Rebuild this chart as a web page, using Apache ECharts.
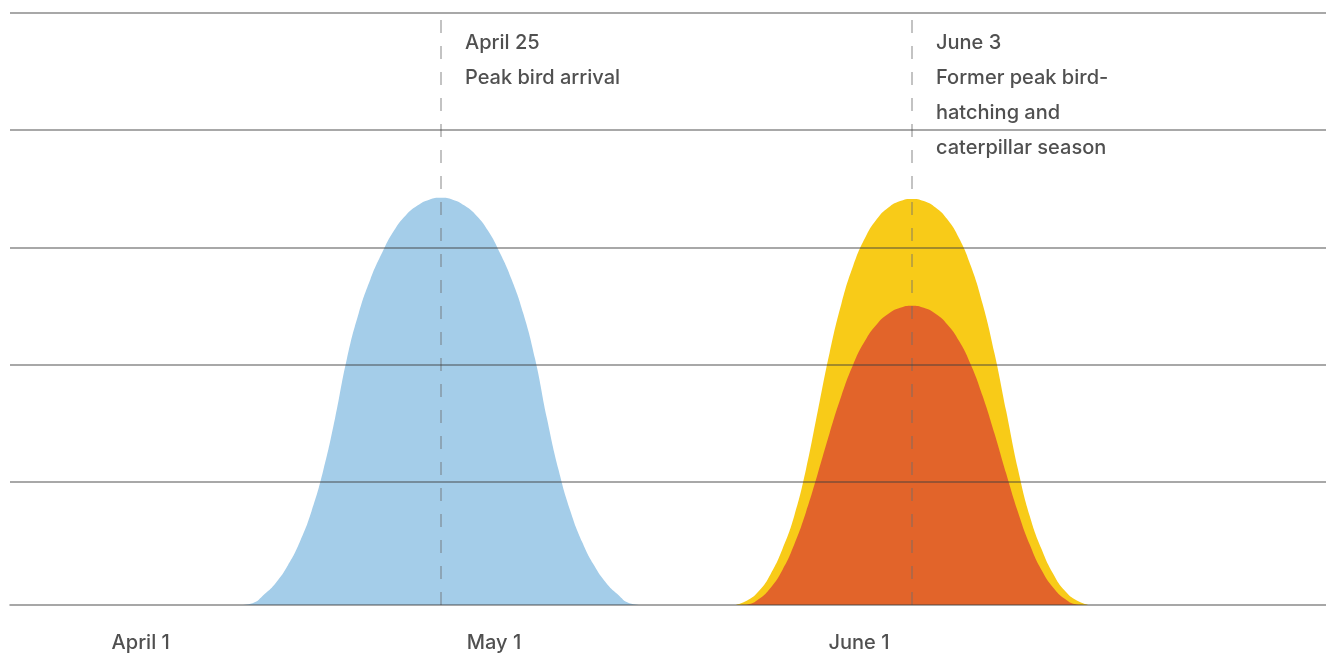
<!DOCTYPE html>
<html>
<head>
<meta charset="utf-8">
<script src="https://cdn.jsdelivr.net/npm/echarts@6/dist/echarts.min.js"></script>
<style>
  html, body { margin: 0; padding: 0; background: #ffffff; }
  #chart { width: 1326px; height: 654px; }
</style>
</head>
<body>
<div id="chart"></div>
<script>
// ---- Data (x = days counted from April 1, y = relative abundance) ----
const tickDays   = [0, 30, 61];
const tickLabels = ['April 1', 'May 1', 'June 1'];

const birdDays = [8.5, 9.5, 10.5, 11.5, 12.5, 13.5, 14.5, 15.5, 16.5, 17.5, 18.5, 19.5,
  20.5, 21.5, 22.5, 23.5, 24.5, 25.5, 26.5, 27.5, 28.5, 29.5, 30.5, 31.5, 32.5, 33.5,
  34.5, 35.5, 36.5, 37.5, 38.5, 39.5, 40.5, 41.5, 42.5];
const birdArrival = [0, 0.3, 1.8, 3.8, 6.7, 10.6, 15.8, 22.7, 31.5, 41.5, 49.2, 55.0,
  59.5, 63.2, 65.8, 67.47, 68.47, 68.8, 68.47, 67.47, 65.8, 63.2, 59.5, 55.0, 49.2, 41.5,
  31.5, 22.7, 15.8, 10.6, 6.7, 3.8, 1.8, 0.3, 0];

const juneDays = [50.5, 51.5, 52.5, 53.5, 54.5, 55.5, 56.5, 57.5, 58.5, 59.5, 60.5,
  61.5, 62.5, 63.5, 64.5, 65.5, 66.5, 67.5, 68.5, 69.5, 70.5, 71.5, 72.5, 73.5, 74.5,
  75.5, 76.5, 77.5, 78.5, 79.5, 80.5];
const hatchingSeason = [0, 0.75, 2.35, 5.25, 9.45, 15.05, 22.95, 32.75, 42.55, 50.85,
  57.25, 61.95, 65.15, 67.15, 68.25, 68.6, 68.25, 67.15, 65.15, 61.95, 57.25, 50.85,
  42.55, 32.75, 22.95, 15.05, 9.45, 5.25, 2.35, 0.75, 0];
const caterpillarSeason = [0, 0.1, 1.0, 2.9, 5.9, 10.2, 15.7, 22.2, 29.0, 35.3, 40.6,
  44.6, 47.4, 49.2, 50.2, 50.55, 50.2, 49.2, 47.4, 44.6, 40.6, 35.3, 29.0, 22.2, 15.7,
  10.2, 5.9, 2.9, 1.0, 0.1, 0];

const peakArrivalDay = 25.5;
const peakHatchDay = 65.5;
const notes = [
  { day: peakArrivalDay, text: 'April 25\nPeak bird arrival' },
  { day: peakHatchDay, text: 'June 3\nFormer peak bird-\nhatching and\ncaterpillar season' }
];

// ---- Chart ----
const pair = (xs, ys) => xs.map((x, i) => [x, ys[i]]);
const FONT = 'Inter, "Noto Sans", sans-serif';
const TEXT = '#505050';
const GRIDLINE = 'rgba(60,60,60,0.6)';
const DASH = { type: [13, 13], color: 'rgba(110,110,110,0.55)', width: 1.5 };

const chart = echarts.init(document.getElementById('chart'), null, { renderer: 'canvas' });

function area(name, xs, ys, color, extra) {
  return Object.assign({
    name, type: 'line', xAxisIndex: 0, yAxisIndex: 0,
    data: pair(xs, ys), smooth: 0.5, symbol: 'none',
    lineStyle: { width: 0 }, areaStyle: { color, opacity: 1 },
    itemStyle: { color }, silent: true, animation: false
  }, extra || {});
}

function markAt(day) {
  return {
    symbol: 'none', silent: true, animation: false,
    label: { show: false }, lineStyle: DASH,
    data: [{ xAxis: day }]
  };
}

chart.setOption({
  backgroundColor: '#ffffff',
  animation: false,
  grid: [
    { left: 10, right: 0, top: 13, bottom: 48.5 },   // data grid
    { left: 10, right: 0, top: 13, height: 468.5 }   // horizontal rules
  ],
  xAxis: [
    {
      type: 'value', gridIndex: 0, min: -11.1, max: 100.66, z: 6,
      splitLine: { show: false },
      axisLine: { show: true, onZero: false, lineStyle: { color: GRIDLINE, width: 1.5 } },
      axisTick: { show: false },
      axisLabel: {
        show: true, customValues: tickDays, margin: 27,
        formatter: v => tickLabels[tickDays.indexOf(v)] || '',
        color: TEXT, fontSize: 20, fontWeight: 500, fontFamily: FONT, lineHeight: 22
      }
    },
    { type: 'value', gridIndex: 1, min: 0, max: 1, show: false }
  ],
  yAxis: [
    { type: 'value', gridIndex: 0, min: 0, max: 100, show: false },
    {
      type: 'value', gridIndex: 1, min: 0, max: 4, interval: 1, z: 6,
      axisLine: { show: false }, axisTick: { show: false }, axisLabel: { show: false },
      splitLine: { show: true, lineStyle: { color: GRIDLINE, width: 1.5 } }
    }
  ],
  series: [
    area('Bird arrival', birdDays, birdArrival, '#a4cde9', { markLine: markAt(peakArrivalDay) }),
    area('Bird hatching', juneDays, hatchingSeason, '#f8cb18'),
    area('Caterpillars', juneDays, caterpillarSeason, '#e2642a', { markLine: markAt(peakHatchDay) })
  ]
});

chart.setOption({
  graphic: notes.map(n => ({
    type: 'text', silent: true,
    x: chart.convertToPixel({ xAxisIndex: 0 }, n.day) + 24,
    y: 25,
    style: {
      text: n.text, fill: TEXT, font: '500 20px ' + FONT,
      lineHeight: 35, verticalAlign: 'top', align: 'left'
    }
  }))
});
</script>
</body>
</html>
